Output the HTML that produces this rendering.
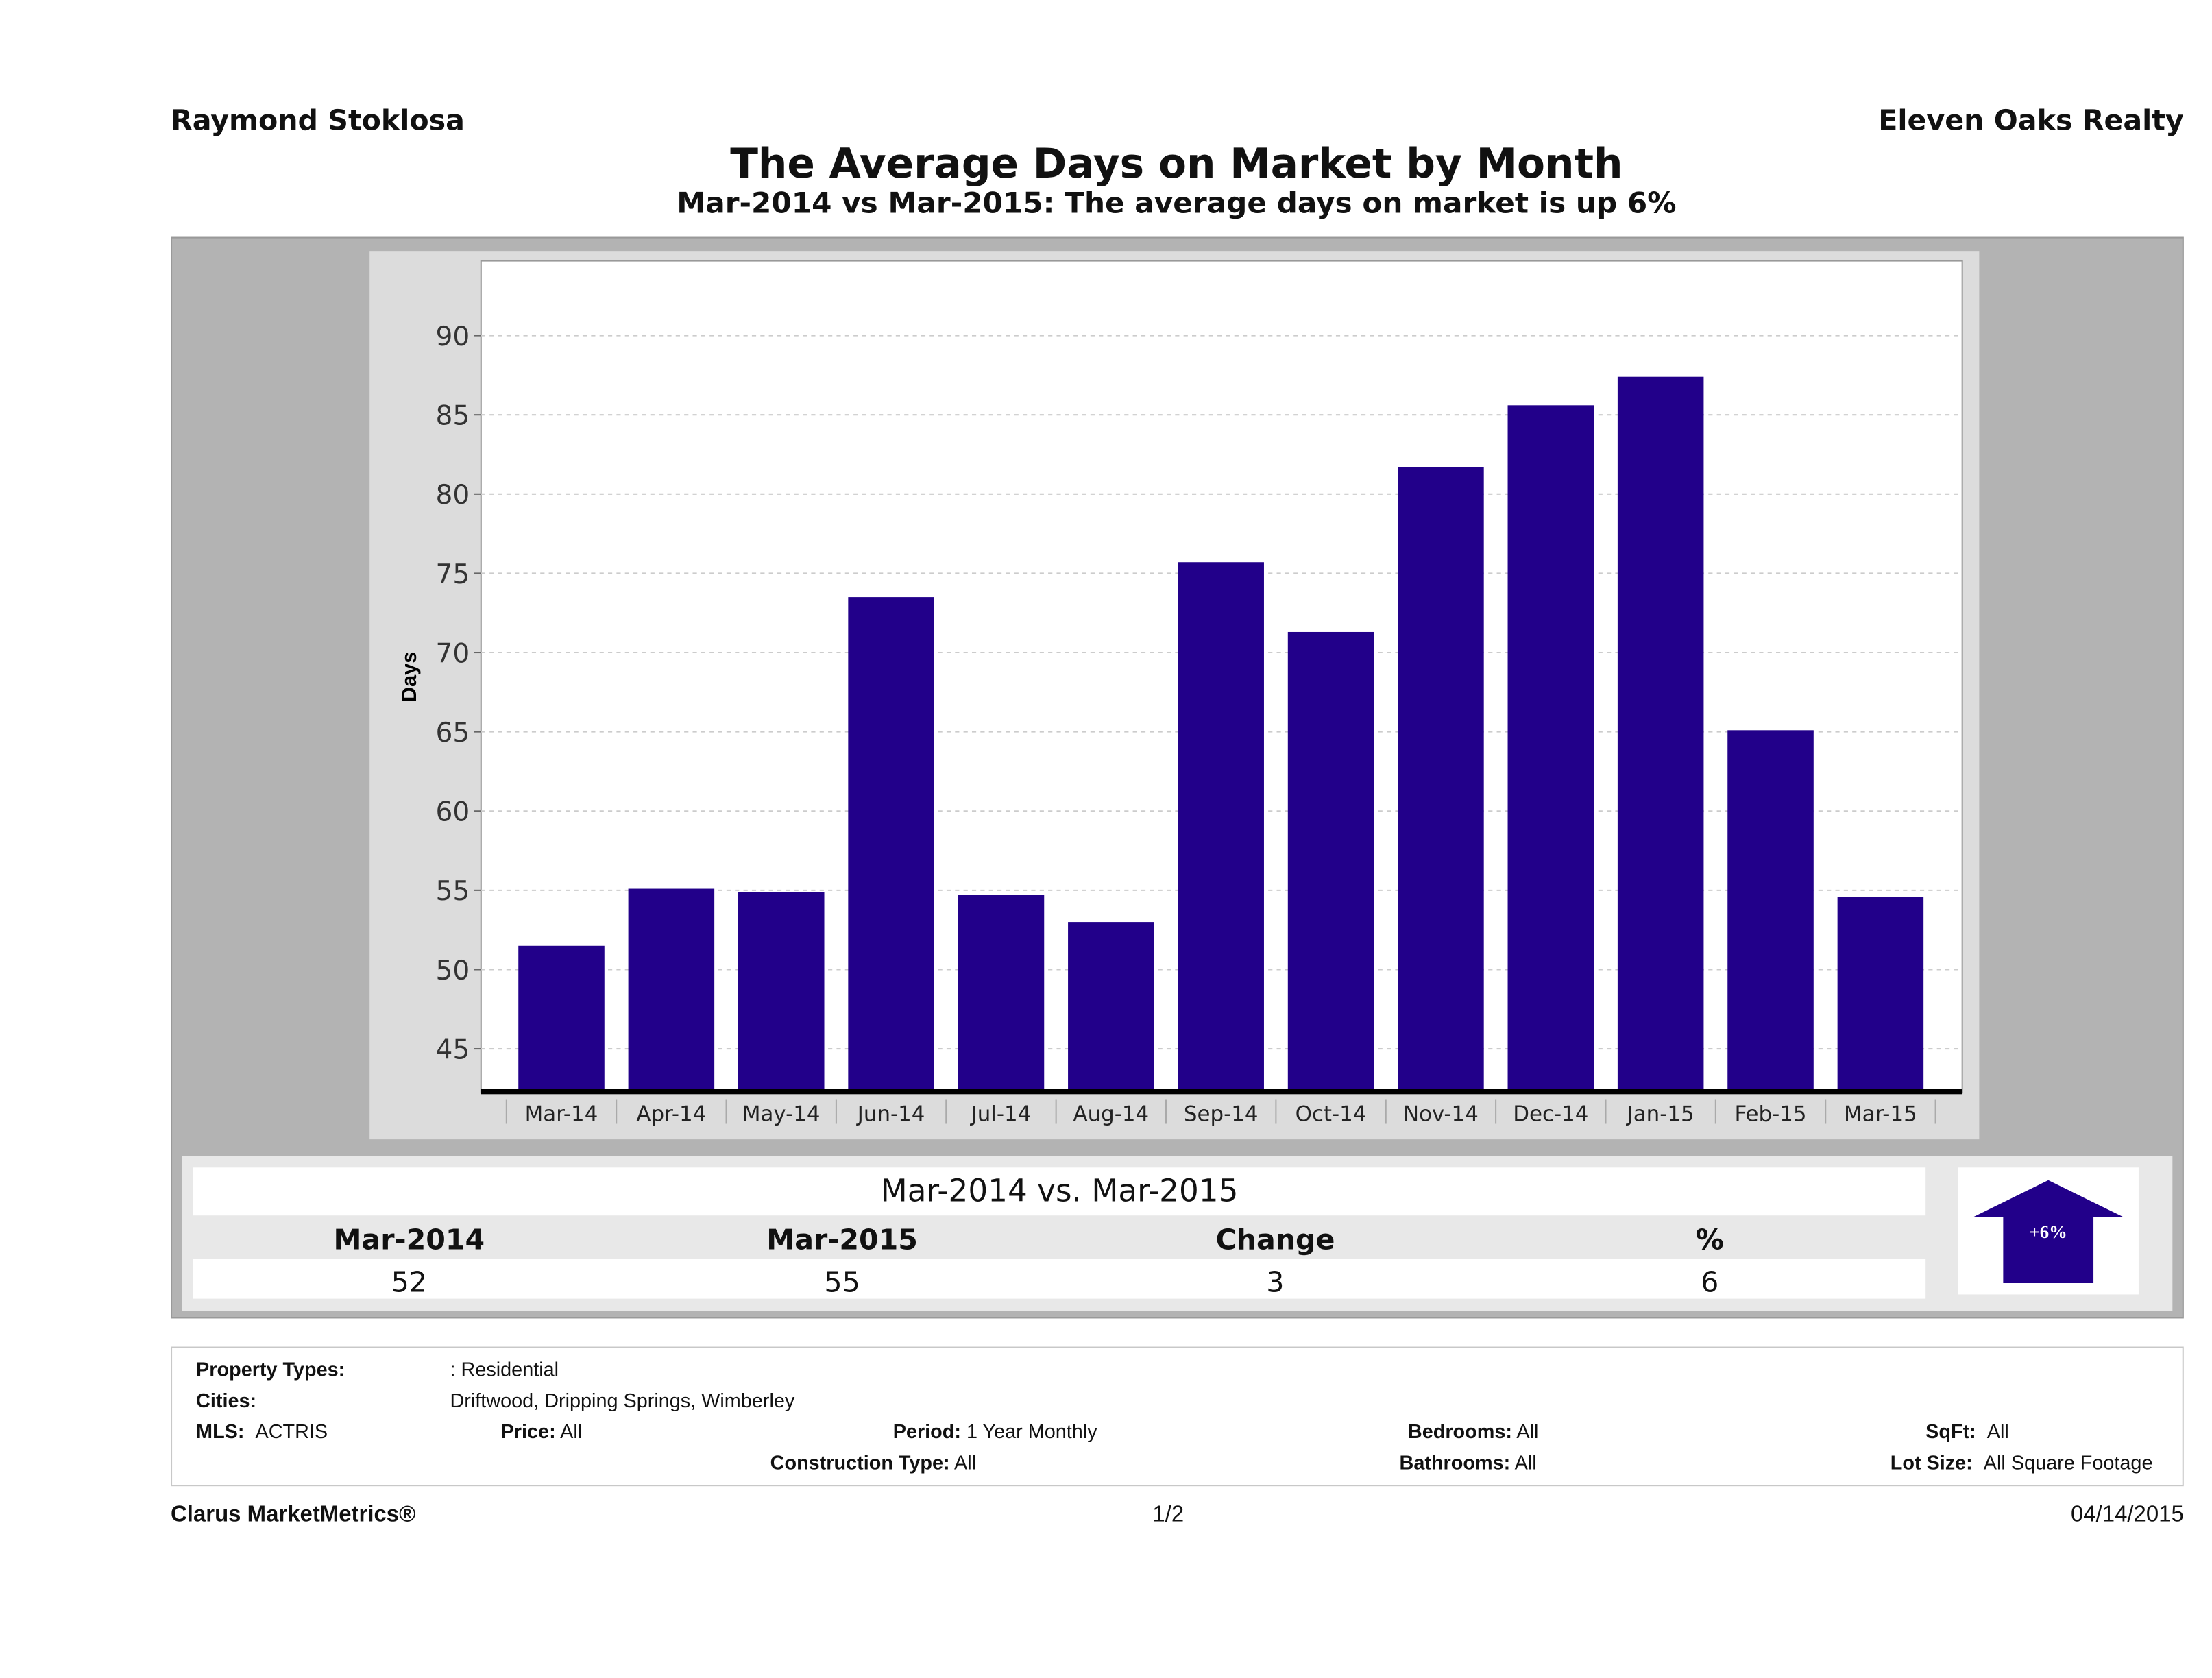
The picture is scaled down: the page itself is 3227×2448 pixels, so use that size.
<!DOCTYPE html>
<html><head><meta charset="utf-8"><style>
html,body{margin:0;padding:0;background:#fff;}
body{width:3227px;height:2448px;overflow:hidden;position:relative;}
#wrap{position:absolute;left:0;top:0;width:1568px;height:1190px;transform:scale(2.0580,2.0571);transform-origin:0 0;font-family:"DejaVu Sans","Liberation Sans",sans-serif;color:#111;}
.a{position:absolute;white-space:nowrap;}
.b{font-weight:bold;}
.sm{font-family:"Liberation Sans",sans-serif;font-size:14px;}
</style></head><body>
<div id="wrap">
<div class="a b" style="left:121px;top:73px;font-size:20px;">Raymond Stoklosa</div>
<div class="a b" style="right:20px;top:73px;font-size:20px;">Eleven Oaks Realty</div>
<div class="a b" style="left:0;width:1668px;text-align:center;top:99px;font-size:29px;">The Average Days on Market by Month</div>
<div class="a b" style="left:0;width:1668px;text-align:center;top:132px;font-size:20.5px;">Mar-2014 vs Mar-2015: The average days on market is up 6%</div>

<div class="a" style="left:121px;top:168px;width:1425px;height:765px;background:#b3b3b3;border:1px solid #999;"></div>
<div class="a" style="left:262px;top:178px;width:1141px;height:630px;background:#dcdcdc;"></div>
<svg class="a" id="chart" style="left:0;top:0;" width="1568" height="820"></svg>

<div class="a" style="left:129px;top:820px;width:1411px;height:110px;background:#e8e8e8;"></div>
<div class="a" style="left:137px;top:828px;width:1228px;height:34px;background:#fff;text-align:center;line-height:36px;font-size:22px;">Mar-2014 vs. Mar-2015</div>
<div class="a" style="left:137px;top:893px;width:1228px;height:28px;background:#fff;"></div>
<div class="a b" style="left:190px;width:200px;text-align:center;top:867px;font-size:20px;">Mar-2014</div>
<div class="a b" style="left:497px;width:200px;text-align:center;top:867px;font-size:20px;">Mar-2015</div>
<div class="a b" style="left:804px;width:200px;text-align:center;top:867px;font-size:20px;">Change</div>
<div class="a b" style="left:1112px;width:200px;text-align:center;top:867px;font-size:20px;">%</div>
<div class="a" style="left:190px;width:200px;text-align:center;top:897px;font-size:20px;">52</div>
<div class="a" style="left:497px;width:200px;text-align:center;top:897px;font-size:20px;">55</div>
<div class="a" style="left:804px;width:200px;text-align:center;top:897px;font-size:20px;">3</div>
<div class="a" style="left:1112px;width:200px;text-align:center;top:897px;font-size:20px;">6</div>
<div class="a" style="left:1388px;top:828px;width:128px;height:90px;background:#fff;"></div>
<svg class="a" style="left:1388px;top:828px;" width="128" height="90">
<polygon points="11,35 64,9 117,35 96,35 96,82 32,82 32,35" fill="#22008a"/>
<text x="64" y="50" text-anchor="middle" fill="#fff" font-size="13" font-weight="bold" font-family="Liberation Serif,serif">+6%</text>
</svg>

<div class="a" style="left:121px;top:955px;width:1425px;height:97px;border:1px solid #c8c8c8;"></div>
<div class="a sm b" style="left:139px;top:963px;">Property Types:</div>
<div class="a sm" style="left:319px;top:963px;">: Residential</div>
<div class="a sm b" style="left:139px;top:985px;">Cities:</div>
<div class="a sm" style="left:319px;top:985px;">Driftwood, Dripping Springs, Wimberley</div>
<div class="a sm" style="left:139px;top:1007px;"><b>MLS:</b>&nbsp;&nbsp;ACTRIS</div>
<div class="a sm" style="left:355px;top:1007px;"><b>Price:</b> All</div>
<div class="a sm" style="left:633px;top:1007px;"><b>Period:</b> 1 Year Monthly</div>
<div class="a sm" style="left:998px;top:1007px;"><b>Bedrooms:</b> All</div>
<div class="a sm" style="left:1365px;top:1007px;"><b>SqFt:</b>&nbsp;&nbsp;All</div>
<div class="a sm" style="left:546px;top:1029px;"><b>Construction Type:</b> All</div>
<div class="a sm" style="left:992px;top:1029px;"><b>Bathrooms:</b> All</div>
<div class="a sm" style="left:1340px;top:1029px;"><b>Lot Size:</b>&nbsp;&nbsp;All Square Footage</div>

<div class="a b" style="left:121px;top:1066px;font-size:16px;font-family:'Liberation Sans',sans-serif;">Clarus MarketMetrics®</div>
<div class="a" style="left:817px;top:1066px;font-size:16px;font-family:'Liberation Sans',sans-serif;">1/2</div>
<div class="a" style="right:20px;top:1066px;font-size:16px;font-family:'Liberation Sans',sans-serif;">04/14/2015</div>
</div>
<script>
const categories=["Mar-14","Apr-14","May-14","Jun-14","Jul-14","Aug-14","Sep-14","Oct-14","Nov-14","Dec-14","Jan-15","Feb-15","Mar-15"];
const values=[51.5,55.1,54.9,73.5,54.7,53.0,75.7,71.3,81.7,85.6,87.4,65.1,54.6];
const yTicks=[45,50,55,60,65,70,75,80,85,90];
const NS="http://www.w3.org/2000/svg";
const svg=document.getElementById('chart');
const PL=341,PR=1391,PT=185,PB=775;
function y(v){return 238+(90-v)*11.24;}
const band=(1372-359)/categories.length;
function xc(i){return 359+band*(i+0.5);}
function mk(t,a){const e=document.createElementNS(NS,t);for(const k in a)e.setAttribute(k,a[k]);svg.appendChild(e);return e;}
let r=mk('rect',{x:PL,y:PT,width:PR-PL,height:PB-PT,fill:'#fff',stroke:'#999'});


yTicks.forEach(t=>{
 let g=mk('line',{x1:PL,x2:PR,y1:y(t),y2:y(t),stroke:'#ccc','stroke-dasharray':'3,3'});
 
 
 mk('line',{x1:PL-5,x2:PL,y1:y(t),y2:y(t),stroke:'#666'});
 let tx=mk('text',{x:PL-8,y:y(t)+7,'text-anchor':'end','font-size':'19','fill':'#333','font-family':'DejaVu Sans,sans-serif'});
 tx.textContent=t;
 
 
});
let yt=mk('text',{x:0,y:0,transform:'translate(295,480) rotate(-90)','text-anchor':'middle','font-size':'15','font-weight':'bold','font-family':'Liberation Sans,sans-serif'});
yt.textContent='Days';


const bw=61;
values.forEach((v,i)=>{
 let b=mk('rect',{x:xc(i)-bw/2,y:y(v),width:bw,height:PB-y(v),fill:'#22008a'});
 
 
 let t=mk('text',{x:xc(i),y:795,'text-anchor':'middle','font-size':'15','fill':'#222','font-family':'DejaVu Sans,sans-serif'});
 t.textContent=categories[i];
 
 
 mk('line',{x1:xc(i)-band/2,x2:xc(i)-band/2,y1:780,y2:797,stroke:'#aaa'});
});
mk('line',{x1:359+band*categories.length,x2:359+band*categories.length,y1:780,y2:797,stroke:'#aaa'});
let ax=mk('rect',{x:PL,y:772,width:PR-PL,height:4,fill:'#000'});


</script>
</body></html>
